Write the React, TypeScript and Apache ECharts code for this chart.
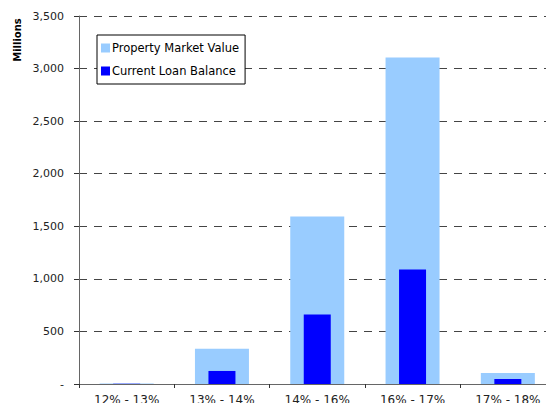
import React, { useEffect, useRef } from "react";
import * as echarts from "echarts";

const categories = ["12% - 13%", "13% - 14%", "14% - 16%", "16% - 17%", "17% - 18%"];
const propertyMarketValue = [4, 335, 1592, 3105, 105];
const currentLoanBalance = [3, 124, 660, 1089, 48];
const yTicks = [0, 500, 1000, 1500, 2000, 2500, 3000, 3500];

const fmt = (v: number) => (v === 0 ? "-" : v.toLocaleString("en-US"));

export default function App() {
  const ref = useRef<HTMLDivElement>(null);
  useEffect(() => {
    if (!ref.current) return;
    const chart = echarts.init(ref.current, null, { renderer: "svg" });
    const font = "DejaVu Sans, Verdana, sans-serif";
    chart.setOption({
      animation: false,
      textStyle: { fontFamily: font },
      grid: { left: 79, top: 16, right: -9.5, bottom: 19, outerBoundsMode: "none", containLabel: false },
      graphic: [
        {
          type: "text",
          x: 17,
          y: 40,
          rotation: Math.PI / 2,
          style: {
            text: "Millions",
            fontFamily: font,
            fontSize: 10,
            fontWeight: "bold",
            fill: "#000",
            align: "center",
            verticalAlign: "middle",
          },
        },
      ],
      legend: {
        show: true,
        left: 97,
        top: 35,
        orient: "vertical",
        width: 145,
        itemWidth: 9,
        itemHeight: 9,
        itemGap: 11,
        padding: [7, 6, 7, 4],
        borderColor: "#000",
        borderWidth: 1,
        backgroundColor: "#fff",
        icon: "rect",
        textStyle: { fontFamily: font, fontSize: 11.5, color: "#000", padding: [0, 0, 0, -3] },
        data: ["Property Market Value", "Current Loan Balance"],
      },
      xAxis: [
        {
          type: "category",
          data: categories,
          axisLine: { lineStyle: { color: "#666", width: 1 } },
          axisTick: { show: true, length: 4, lineStyle: { color: "#333" } },
          axisLabel: { fontFamily: font, fontSize: 12, color: "#222", margin: 10 },
          splitLine: { show: false },
        },
        {
          type: "category",
          data: categories,
          show: false,
          position: "bottom",
        },
      ],
      yAxis: {
        type: "value",
        min: 0,
        max: 3500,
        interval: 500,
        axisLine: { show: true, lineStyle: { color: "#666", width: 1 } },
        axisTick: { show: true, length: 5, lineStyle: { color: "#333" } },
        axisLabel: {
          fontFamily: font,
          fontSize: 11,
          color: "#222",
          margin: 15,
          formatter: (v: number) => (yTicks.includes(v) ? fmt(v) : ""),
        },
        splitLine: { show: true, lineStyle: { color: "#444", type: [8, 7], width: 1 } },
      },
      series: [
        {
          name: "Property Market Value",
          type: "bar",
          xAxisIndex: 0,
          data: propertyMarketValue,
          barWidth: 54,
          itemStyle: { color: "#99CCFF" },
          z: 2,
        },
        {
          name: "Current Loan Balance",
          type: "bar",
          xAxisIndex: 1,
          data: currentLoanBalance,
          barWidth: 27,
          itemStyle: { color: "#0000FF" },
          z: 3,
        },
      ],
    });
    return () => chart.dispose();
  }, []);
  return (
    <div
      ref={ref}
      style={{ position: "fixed", left: 0, top: 0, width: 546, height: 403, background: "#fff" }}
    />
  );
}
